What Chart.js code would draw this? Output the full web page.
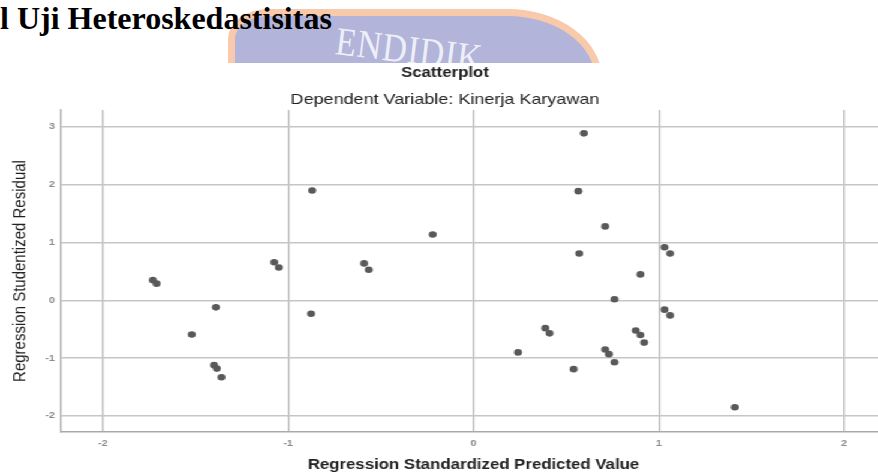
<!DOCTYPE html>
<html>
<head>
<meta charset="utf-8">
<script src="https://cdn.jsdelivr.net/npm/chart.js@4/dist/chart.umd.min.js"></script>
<style>
  html, body { margin: 0; padding: 0; width: 878px; height: 474px; overflow: hidden; background: #ffffff; }
  #logo { position: absolute; left: 0; top: 0; width: 878px; height: 63px; overflow: hidden; }
  #logoShape { position: absolute; left: 228px; top: 9px; width: 360px; height: 200px;
    background: #b2b4d9; border: 7px solid #f8c9aa; border-radius: 40px 95px 0 0 / 30px 70px 0 0; }
  #logoText { position: absolute; left: 336px; top: 17px; font-family: "Liberation Serif", serif;
    font-size: 40px; color: #eeeef7; letter-spacing: 1px; transform: rotate(7deg) scaleX(0.85); transform-origin: left center; }
  #heading { position: absolute; left: 0; top: 0px; font-family: "Liberation Serif", serif; font-weight: bold;
    font-size: 32px; color: #000; white-space: nowrap; }
  #wrap { position: absolute; left: 0; top: 63px; width: 742px; height: 411px; background: #ffffff;
    transform: scaleX(1.1995); transform-origin: left top; }
  canvas { display: block; }
</style>
</head>
<body>
<div id="logo"><div id="logoShape"></div><div id="logoText">ENDIDIK</div></div>
<div id="heading">l Uji Heteroskedastisitas</div>
<div id="wrap"><canvas id="c" width="742" height="411"></canvas></div>
<script>
// Regression Standardized Predicted Value (x) and Regression Studentized Residual (y)
const predicted = [-1.73, -1.71, -1.39, -1.52, -1.40, -1.385, -1.36, -1.075, -1.05, -0.87, -0.876,
  -0.59, -0.565, -0.22, 0.24, 0.387, 0.41, 0.54, 0.595, 0.565, 0.71, 0.57, 1.03, 1.06, 0.90, 0.76,
  1.03, 1.06, 0.875, 0.90, 0.92, 0.71, 0.73, 0.76, 1.41];
const residual = [0.35, 0.29, -0.12, -0.59, -1.12, -1.18, -1.33, 0.66, 0.57, 1.90, -0.23,
  0.64, 0.53, 1.14, -0.90, -0.48, -0.57, -1.19, 2.89, 1.89, 1.28, 0.81, 0.92, 0.81, 0.45, 0.02,
  -0.16, -0.26, -0.52, -0.60, -0.73, -0.85, -0.93, -1.07, -1.85];
const xTicks = [-2, -1, 0, 1, 2];
const yTicks = [-2, -1, 0, 1, 2, 3];

const points = predicted.map((x, i) => ({ x: x, y: residual[i] }));
const FONT = 'Liberation Sans, Arial, sans-serif';

new Chart(document.getElementById('c'), {
  type: 'scatter',
  data: { datasets: [{ data: points, backgroundColor: '#595959', borderWidth: 0, pointRadius: 3.3, pointHoverRadius: 3.3 }] },
  options: {
    responsive: false,
    animation: false,
    events: [],
    layout: { padding: 0 },
    plugins: {
      legend: { display: false },
      tooltip: { enabled: false },
      title: { display: true, text: 'Scatterplot', color: '#222',
        font: { family: FONT, size: 14, weight: 'bold', lineHeight: 1.2 },
        padding: { top: 1.6, bottom: 0 } },
      subtitle: { display: true, text: 'Dependent Variable: Kinerja Karyawan', color: '#222',
        font: { family: FONT, size: 15, weight: 'normal', lineHeight: 1.2 },
        padding: { top: 9.6, bottom: 1 } }
    },
    scales: {
      x: {
        type: 'linear', min: -2.2255, max: 2.2255,
        afterBuildTicks: s => { s.ticks = xTicks.map(v => ({ value: v })); },
        afterFit: s => { s.height = 42; },
        grid: { color: '#b6b6b6', lineWidth: 1.3, drawTicks: false },
        border: { display: true, color: '#a9a9a9', width: 1.5 },
        ticks: { padding: 6, color: '#8a8a8a', font: { family: FONT, size: 9, weight: 'bold' } },
        title: { display: true, text: 'Regression Standardized Predicted Value', color: '#222',
          font: { family: FONT, size: 14, weight: 'bold', lineHeight: 1.2 },
          padding: { top: 0, bottom: 0.6 } }
      },
      y: {
        type: 'linear', min: -2.277, max: 3.294,
        afterBuildTicks: s => { s.ticks = yTicks.map(v => ({ value: v })); },
        afterFit: s => { s.width = 50.85; },
        grid: { color: '#c6c6c6', lineWidth: 1.5, drawTicks: false },
        border: { display: true, color: '#a9a9a9', width: 1.3 },
        ticks: { padding: 5, color: '#8a8a8a', font: { family: FONT, size: 9, weight: 'bold' } },
        title: { display: true, text: 'Regression Studentized Residual', color: '#222',
          font: { family: FONT, size: 15, weight: 'normal', lineHeight: 1.2 },
          padding: { top: 7.7, bottom: 0 } }
      }
    }
  }
});
</script>
</body>
</html>
